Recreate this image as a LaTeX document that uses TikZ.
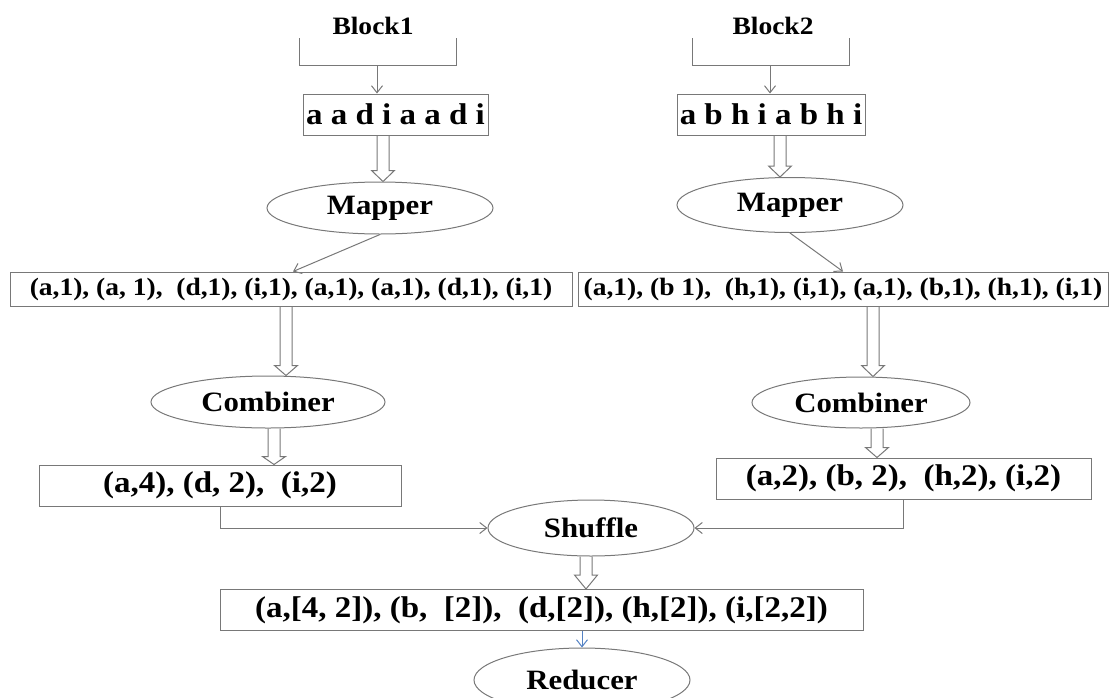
\documentclass[tikz,border=0pt]{standalone}
\usepackage{fontspec}
\setmainfont{Liberation Serif}[FakeStretch=1.1]
\usetikzlibrary{arrows.meta,shapes.geometric,calc}
\definecolor{linegray}{RGB}{120,120,120}
\definecolor{linkblue}{RGB}{84,130,196}
\tikzset{
  hollow/.style={draw=linegray, line width=1pt,
    to path={let \p1=(\tikztostart), \p2=(\tikztotarget) in
      (\x1-6pt,\y1) -- (\x1-6pt,\y2+#1) -- (\x1-11.5pt,\y2+#1) -- (\x1,\y2)
      -- (\x1+11.5pt,\y2+#1) -- (\x1+6pt,\y2+#1) -- (\x1+6pt,\y1)}},
  hollow/.default=11pt
}

\begin{document}
\begin{tikzpicture}[x=1pt,y=-1pt]
    \useasboundingbox (0,0) rectangle (1109,697);

    \begin{scope}[every node/.style={font=\fontsize{25}{28}\selectfont\bfseries}]
      \node (blk1) at (373,26) {Block1};
      \node (blk2) at (773,26) {Block2};
    \end{scope}

    \begin{scope}[every node/.style={draw=linegray,line width=1pt,inner sep=0pt,
        font=\fontsize{30}{34}\selectfont\bfseries}]
      \node[minimum width=185,minimum height=41] (box1) at (395.5,114.5) {a a d i a a d i};
      \node[minimum width=188,minimum height=41] (box2) at (771,114.5) {a b h i a b h i};
      \node[minimum width=362,minimum height=41] (res1) at (220,485.5) {(a,4), (d, 2),\ \ (i,2)};
      \node[minimum width=375,minimum height=41] (res2) at (903.5,478.5) {(a,2), (b, 2),\ \ (h,2), (i,2)};
      \node[minimum width=643,minimum height=41] (all) at (541.5,610) {(a,[4, 2]), (b,\ \ [2]),\ \ (d,[2]), (h,[2]), (i,[2,2])};
    \end{scope}

    \begin{scope}[every node/.style={draw=linegray,line width=1pt,inner sep=0pt,
        minimum height=34,font=\fontsize{25}{28}\selectfont\bfseries}]
      \node[minimum width=562] (list1) at (291,289) {(a,1), (a, 1),\ \ (d,1), (i,1), (a,1), (a,1), (d,1), (i,1)};
      \node[minimum width=530] (list2) at (843,289) {(a,1), (b 1),\ \ (h,1), (i,1), (a,1), (b,1), (h,1), (i,1)};
    \end{scope}

    \begin{scope}[every node/.style={ellipse,draw=linegray,line width=1pt,inner sep=0pt,
        font=\fontsize{28}{32}\selectfont\bfseries}]
      \node[minimum width=226,minimum height=52] (map1) at (380,208) {Mapper};
      \node[minimum width=226,minimum height=55] (map2) at (790,205) {Mapper};
      \node[minimum width=234,minimum height=52] (comb1) at (268,402) {Combiner};
      \node[minimum width=218,minimum height=51] (comb2) at (861,402.5) {Combiner};
      \node[minimum width=206,minimum height=56] (shuf) at (591,528) {Shuffle};
      \node[minimum width=216,minimum height=64] (red) at (582,680) {Reducer};
    \end{scope}

    % brackets over the blocks
    \coordinate (k1) at (377,65);
    \coordinate (k2) at (770,65);
    \draw[linegray,line width=1pt] (299,38) |- (456,65) -- (456,38);
    \draw[linegray,line width=1pt] (692,38) |- (849,65) -- (849,38);

    \begin{scope}[>={Straight Barb[length=7pt,width=11pt]},
        every edge/.style={draw=linegray,line width=1pt}]
      \path [->] (k1) edge (k1 |- box1.north);
      \path [->] (k2) edge (k2 |- box2.north);
      \path [->] (map1.south) edge ([xshift=2pt]list1.north);
      \path [->] (map2.south) edge (list2.north);
      \path [->] (res1.south) edge[to path={|- (\tikztotarget)}] (shuf.west);
      \path [->] (res2.south) edge[to path={|- (\tikztotarget)}] (shuf.east);
      \path [->] ([xshift=40.5pt]all.south) edge[draw=linkblue] ([xshift=40.5pt]all.south |- red.north);
    \end{scope}

    \draw[hollow] ([xshift=-12.5pt]box1.south) to (map1.north);
    \draw[hollow] ([xshift=9pt]box2.south) to (map2.north);
    \draw[hollow={10pt}] ([xshift=-5pt]list1.south) to (comb1.north);
    \draw[hollow] ([xshift=30pt]list2.south) to (comb2.north);
    \draw[hollow={8pt}] ([xshift=6pt]comb1.south) to (res1.north);
    \draw[hollow={10pt}] ([xshift=16pt]comb2.south) to (res2.north);
    \draw[hollow={14pt}] ([xshift=-5pt]shuf.south) to (all.north);
  \end{tikzpicture}
\end{document}
